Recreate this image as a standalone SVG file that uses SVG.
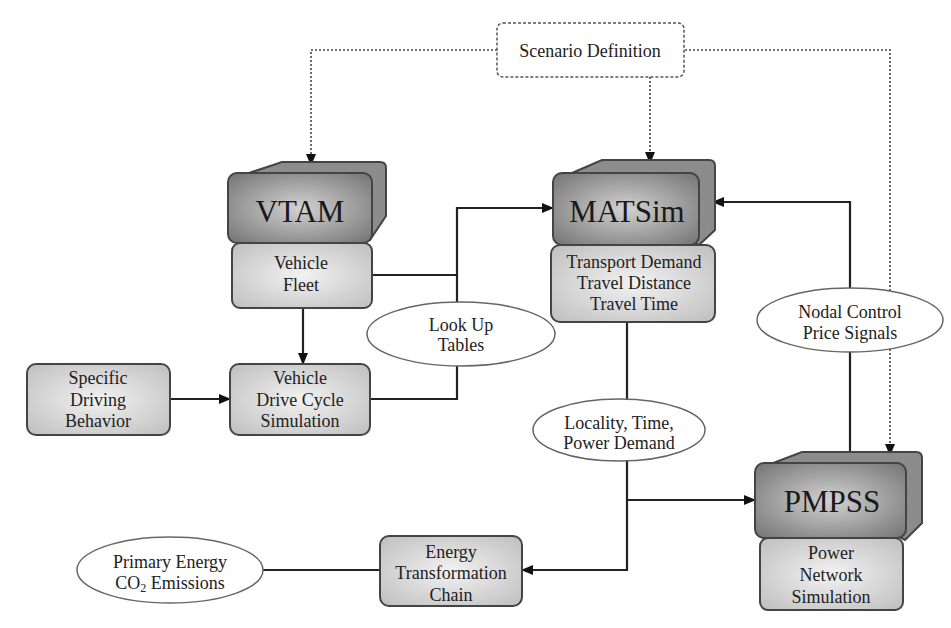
<svg xmlns="http://www.w3.org/2000/svg" width="951" height="628" viewBox="0 0 951 628">
<defs>
<radialGradient id="gTop" cx="50%" cy="50%" r="65%">
<stop offset="0" stop-color="#d2d2d2"/><stop offset="1" stop-color="#7a7a7a"/>
</radialGradient>
<radialGradient id="gLow" cx="50%" cy="50%" r="65%">
<stop offset="0" stop-color="#f2f2f2"/><stop offset="1" stop-color="#c2c2c2"/>
</radialGradient>
<marker id="arr" markerWidth="12" markerHeight="10" refX="11" refY="5" orient="auto" markerUnits="userSpaceOnUse">
<path d="M0,0 L12,5 L0,10 z" fill="#111"/>
</marker>
</defs>
<style>
text{font-family:'Liberation Serif','DejaVu Serif','Times New Roman',serif}
.t{fill:#222;text-anchor:middle;font-size:18px}
.big{font-size:31px;fill:#1a1a1a}
.back{fill:#8c8c8c;stroke:#444;stroke-width:2}
.front{fill:url(#gTop);stroke:#444;stroke-width:2}
.low{fill:url(#gLow);stroke:#444;stroke-width:2}
.ell{fill:#fff;stroke:#666;stroke-width:1.5}
.c{fill:none;stroke:#222;stroke-width:2.2}
.d{fill:none;stroke:#444;stroke-width:1.6;stroke-dasharray:2,2}
</style>
<rect width="951" height="628" fill="#fff"/>
<g id="connectors">
<path class="d" d="M497,50 H311 V165" marker-end="url(#arr)"/>
<path class="d" d="M650,77 V163" marker-end="url(#arr)"/>
<path class="d" d="M685,50 H890 V455" marker-end="url(#arr)"/>
<path class="c" d="M372,275 H457 V208 H553" marker-end="url(#arr)"/>
<path class="c" d="M370,399 H457 V275"/>
<path class="c" d="M303,308 V364" marker-end="url(#arr)"/>
<path class="c" d="M170,399 H230" marker-end="url(#arr)"/>
<path class="c" d="M627,322 V500 H755" marker-end="url(#arr)"/>
<path class="c" d="M627,500 V570 H522" marker-end="url(#arr)"/>
<path class="c" d="M263,570 H380"/>
<path class="c" d="M850,452 V202 H713" marker-end="url(#arr)"/>
</g>
<g id="scenario">
<rect x="497" y="23" width="187" height="54" rx="6" fill="#fff" stroke="#555" stroke-width="1.5" stroke-dasharray="3,2"/>
<text class="t" x="590" y="57">Scenario Definition</text>
</g>
<g id="vtam">
<path class="back" d="M240,176 L282,162 H380 Q386,162 386,168 V216 L370,240 Z"/>
<rect class="front" x="228" y="173" width="144" height="70" rx="9"/>
<text class="t big" x="300" y="222">VTAM</text>
<rect class="low" x="232" y="243" width="140" height="65" rx="8"/>
<text class="t" x="301" y="269">Vehicle</text>
<text class="t" x="301" y="291">Fleet</text>
</g>
<g id="matsim">
<path class="back" d="M565,176 L602,160 H709 Q715,160 715,166 V230 L699,245 Z"/>
<rect class="front" x="553" y="173" width="146" height="72" rx="9"/>
<text class="t big" x="627" y="222">MATSim</text>
<rect class="low" x="551" y="245" width="164" height="77" rx="9"/>
<text class="t" x="634" y="268">Transport Demand</text>
<text class="t" x="634" y="289">Travel Distance</text>
<text class="t" x="634" y="310">Travel Time</text>
</g>
<g id="pmpss">
<path class="back" d="M768,465 L802,452 H916 Q922,452 922,458 V523 L905,540 Z"/>
<rect class="front" x="755" y="463" width="151" height="75" rx="9"/>
<text class="t big" x="832" y="512">PMPSS</text>
<rect class="low" x="760" y="538" width="143" height="72" rx="8"/>
<text class="t" x="831" y="559">Power</text>
<text class="t" x="831" y="581">Network</text>
<text class="t" x="831" y="603">Simulation</text>
</g>
<g id="specific">
<rect class="low" x="27" y="364" width="143" height="71" rx="9"/>
<text class="t" x="98" y="384">Specific</text>
<text class="t" x="98" y="406">Driving</text>
<text class="t" x="98" y="427">Behavior</text>
</g>
<g id="vdcs">
<rect class="low" x="230" y="364" width="140" height="71" rx="9"/>
<text class="t" x="300" y="384">Vehicle</text>
<text class="t" x="300" y="406">Drive Cycle</text>
<text class="t" x="300" y="427">Simulation</text>
</g>
<g id="etc">
<rect class="low" x="380" y="536" width="142" height="70" rx="9"/>
<text class="t" x="451" y="558">Energy</text>
<text class="t" x="451" y="579">Transformation</text>
<text class="t" x="451" y="601">Chain</text>
</g>
<g id="lookup">
<ellipse class="ell" cx="461" cy="334" rx="94" ry="32"/>
<text class="t" x="461" y="331">Look Up</text>
<text class="t" x="461" y="351">Tables</text>
</g>
<g id="locality">
<ellipse class="ell" cx="619" cy="430" rx="86" ry="31"/>
<text class="t" x="619" y="429">Locality, Time,</text>
<text class="t" x="619" y="449">Power Demand</text>
</g>
<g id="nodal">
<ellipse class="ell" cx="850" cy="320" rx="93" ry="32"/>
<text class="t" x="850" y="318">Nodal Control</text>
<text class="t" x="850" y="339">Price Signals</text>
</g>
<g id="primary">
<ellipse class="ell" cx="170" cy="570" rx="93" ry="33"/>
<text class="t" x="170" y="568">Primary Energy</text>
<text class="t" x="170" y="589">CO<tspan font-size="12" dy="3">2</tspan><tspan dy="-3"> Emissions</tspan></text>
</g>
</svg>
